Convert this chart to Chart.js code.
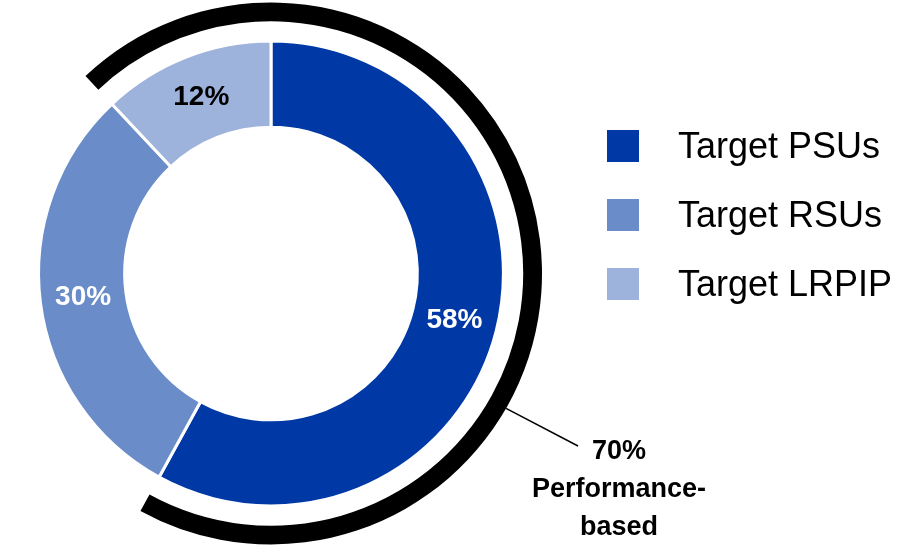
<!DOCTYPE html>
<html>
<head>
<meta charset="utf-8">
<script src="https://cdn.jsdelivr.net/npm/chart.js@4"></script>
<style>
  body { margin: 0; background: #fff; }
  #wrap { position: relative; width: 900px; height: 547px; }
  #legend { position: absolute; left: 607px; top: 111px; font-family: "Liberation Sans", Arial, sans-serif; font-size: 36px; color: #000; }
  #legend div { display: flex; align-items: center; height: 69px; }
  #legend span.box { width: 32px; height: 32px; margin-right: 39px; }
</style>
</head>
<body>
<div id="wrap">
  <canvas id="donut" width="900" height="547"></canvas>
  <div id="legend"></div>
</div>
<script>
const categories = ["Target PSUs", "Target RSUs", "Target LRPIP"];
const shares = [58, 30, 12];
const colors = ["#0039A6", "#6A8CC8", "#9DB3DC"];
const labelColors = ["#fff", "#fff", "#000"];
const performanceShare = [70, 30];
const performanceText = ["70%", "Performance-", "based"];

// legend
const legend = document.getElementById("legend");
categories.forEach((c, i) => {
  const row = document.createElement("div");
  row.innerHTML = `<span class="box" style="background:${colors[i]}"></span>${c}`;
  legend.appendChild(row);
});

const labelPlugin = {
  id: "sliceLabels",
  afterDraw(chart) {
    const ctx = chart.ctx;
    const meta = chart.getDatasetMeta(2);
    ctx.save();
    ctx.font = "bold 28px 'Liberation Sans', Arial, sans-serif";
    ctx.textAlign = "center";
    ctx.textBaseline = "middle";
    meta.data.forEach((arc, i) => {
      const p = arc.tooltipPosition();
      ctx.fillStyle = labelColors[i];
      ctx.fillText(shares[i] + "%", p.x, p.y);
    });
    // callout for performance-based arc
    const outer = chart.getDatasetMeta(0).data[0];
    const ang = outer.startAngle + (outer.endAngle - outer.startAngle) * 0.647;
    const r = outer.outerRadius;
    const x0 = outer.x + Math.cos(ang) * r, y0 = outer.y + Math.sin(ang) * r;
    ctx.strokeStyle = "#000";
    ctx.lineWidth = 1.5;
    ctx.beginPath();
    ctx.moveTo(x0, y0);
    ctx.lineTo(578, 446);
    ctx.stroke();
    ctx.fillStyle = "#000";
    ctx.font = "bold 27px 'Liberation Sans', Arial, sans-serif";
    performanceText.forEach((t, i) => ctx.fillText(t, 619, 452 + i * 38));
    ctx.restore();
  }
};

new Chart(document.getElementById("donut"), {
  type: "doughnut",
  data: {
    labels: categories,
    datasets: [
      {
        data: performanceShare,
        backgroundColor: ["#000", "rgba(0,0,0,0)"],
        borderWidth: 0,
        weight: 19,
        rotation: -43.2
      },
      {
        data: [1],
        backgroundColor: ["rgba(0,0,0,0)"],
        borderWidth: 0,
        weight: 20
      },
      {
        data: shares,
        backgroundColor: colors,
        borderColor: "#fff",
        borderWidth: 3,
        weight: 87
      }
    ]
  },
  options: {
    responsive: false,
    animation: false,
    cutout: "54%",
    layout: { padding: { left: 0, right: 358, top: 0, bottom: 0 } },
    plugins: { legend: { display: false }, tooltip: { enabled: false } }
  },
  plugins: [labelPlugin]
});
</script>
</body>
</html>
